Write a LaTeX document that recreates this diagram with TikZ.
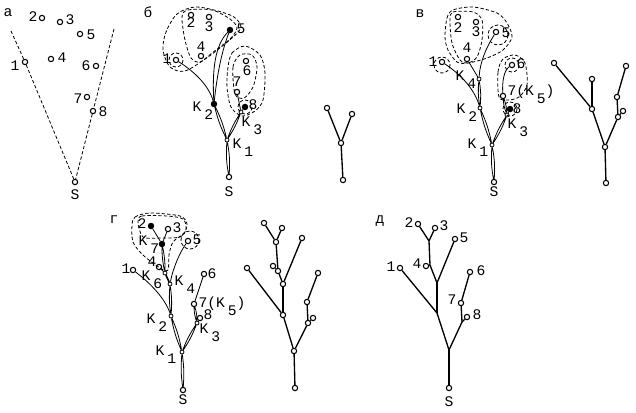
\documentclass[tikz,border=0pt]{standalone}
\usepackage{fontspec}
\newfontfamily\labfont{Liberation Mono}
\usetikzlibrary{calc}
\tikzset{
  pt/.style={circle, draw=black, fill=white, line width=0.8pt, inner sep=0pt, minimum size=4pt},
  ptf/.style={pt, fill=black},
  kpt/.style={pt, minimum size=3pt, line width=0.6pt},
  lab/.style={font=\labfont\fontsize{11}{11}\selectfont, inner sep=0pt},
  edge/.style={line width=0.6pt},
  tree/.style={line width=1pt},
  contour/.style={line width=0.6pt, dash pattern=on 2.5pt off 1.6pt},
}
\newcommand\Klab[1]{K\hspace{0.2em}\raisebox{-0.6em}{#1}}

\begin{document}
\begin{tikzpicture}[x=0.75pt, y=-0.75pt]
  \useasboundingbox (0,0) rectangle (636,412);

  % panel a
  \node[lab] (aT) at (8,13) {а};
  \node[pt] (a1) at (25,62) {};
  \node[pt] (a2) at (42,18) {};
  \node[pt] (a3) at (60,22) {};
  \node[pt] (a4) at (51,59) {};
  \node[pt] (a5) at (80,34) {};
  \node[pt] (a6) at (96,66) {};
  \node[pt] (a7) at (87,97) {};
  \node[pt] (a8) at (93,111) {};
  \node[pt] (aS) at (75,182) {};
  \node[lab] (a1l) at (15,66) {1};
  \node[lab] (a2l) at (33,17) {2};
  \node[lab] (a3l) at (70,20) {3};
  \node[lab] (a4l) at (62,58) {4};
  \node[lab] (a5l) at (91,35) {5};
  \node[lab] (a6l) at (86,66) {6};
  \node[lab] (a7l) at (78,99) {7};
  \node[lab] (a8l) at (103,112) {8};
  \node[lab] (aSl) at (75,195) {S};
  \coordinate (aL) at (11,31);
  \coordinate (aR) at (114,29);
  \draw[contour] (aL) -- (a1) -- (aS);
  \draw[contour] (aR) -- (a8) -- (aS);

  % panel b
  \node[lab] (bT) at (148,12) {б};
  \node[pt] (b1) at (176,60) {};
  \node[pt] (b2) at (191,15) {};
  \node[pt] (b3) at (209,17) {};
  \node[pt] (b4) at (201,56) {};
  \node[ptf] (b5) at (230,30) {};
  \node[pt] (b6) at (246,61) {};
  \node[pt] (b7) at (237,92) {};
  \node[ptf] (b8) at (245,107) {};
  \node[ptf] (bK2) at (214,104) {};
  \node[kpt] (bK3) at (241,112) {};
  \node[kpt] (bK1) at (227,140) {};
  \node[pt] (bS) at (229,177) {};
  \node[lab] (b1l) at (167,59) {1};
  \node[lab] (b2l) at (191,23) {2};
  \node[lab] (b3l) at (209,27) {3};
  \node[lab] (b4l) at (201,47) {4};
  \node[lab] (b5l) at (241,29) {5};
  \node[lab] (b6l) at (247,71) {6};
  \node[lab] (b7l) at (237,82) {7};
  \node[lab] (b8l) at (253,105) {8};
  \node[lab] (bSl) at (229,192) {S};
  \node[lab, anchor=base] (bK2l) at (203,111) {\Klab{2}};
  \node[lab, anchor=base] (bK3l) at (252,126) {\Klab{3}};
  \node[lab, anchor=base] (bK1l) at (243,148) {\Klab{1}};

  \draw[edge] (bS) to[bend left=7] (bK1) (bS) to[bend right=7] (bK1);
  \draw[edge] (bK1) to[bend left=6] (bK2) (bK1) to[bend right=6] (bK2);
  \draw[edge] (bK1) to[bend left=6] (bK3) (bK1) to[bend right=6] (bK3);
  \draw[edge] (bK2) .. controls (212,70) and (215,45) .. (b5);
  \draw[edge] (bK2) .. controls (217,75) and (222,50) .. (b5);
  \draw[edge] (b1) .. controls (195,72) and (209,86) .. (bK2);
  \draw[edge] (b7) -- (bK3);
  \draw[edge] (b8) -- (bK3);

  \draw[contour] plot[smooth cycle] coordinates {(163,50) (170,67) (185,71) (208,57) (232,38) (241,27) (234,17) (218,11) (195,7) (177,14) (166,32)};
  \draw[contour] plot[smooth cycle] coordinates {(182,17) (188,10) (212,10) (230,19) (237,28) (230,39) (212,53) (200,62) (191,58) (185,40)};
  \draw[contour] (b1) circle (7);
  \draw[contour] plot[smooth cycle] coordinates {(228,67) (232,53) (245,46) (260,55) (265,73) (263,100) (255,111) (242,116) (231,107) (227,87)};
  \draw[contour] plot[smooth cycle] coordinates {(235,94) (233,67) (240,55) (252,55) (257,67) (253,87) (244,98)};
  \draw[contour] (b8) circle (7);

  % panel b, tree
  \node[pt] (bT1) at (327,108) {};
  \node[pt] (bT2) at (352,114) {};
  \node[pt] (bTr) at (341,143) {};
  \node[pt] (bTS) at (343,180) {};
  \draw[tree] (bT1) -- (bTr);
  \draw[tree] (bT2) -- (bTr);
  \draw[tree] (bTr) -- (bTS);

  % panel v
  \node[lab] (cT) at (420,14) {в};
  \node[pt] (c1) at (442,62) {};
  \node[pt] (c2) at (458,17) {};
  \node[pt] (c3) at (476,22) {};
  \node[pt] (c4) at (467,59) {};
  \node[pt] (c5) at (496,32) {};
  \node[kpt] (cK4) at (479,79) {};
  \node[pt] (c6) at (512,65) {};
  \node[pt] (c7) at (503,96) {};
  \node[ptf] (c8) at (510,109) {};
  \node[kpt] (cK2) at (480,108) {};
  \node[kpt] (cK3) at (507,115) {};
  \node[kpt] (cK1) at (492,145) {};
  \node[pt] (cS) at (494,182) {};
  \node[lab] (c1l) at (433,62) {1};
  \node[lab] (c2l) at (458,28) {2};
  \node[lab] (c3l) at (476,32) {3};
  \node[lab] (c4l) at (467,48) {4};
  \node[lab] (c5l) at (506,33) {5};
  \node[lab] (c6l) at (521,64) {6};
  \node[lab] (c8l) at (517,109) {8};
  \node[lab] (cSl) at (494,192) {S};
  \node[lab, anchor=base] (c7l) at (531,95) {7(\Klab{5})};
  \node[lab, anchor=base] (cK4l) at (466,80) {\Klab{4}};
  \node[lab, anchor=base] (cK2l) at (467,113) {\Klab{2}};
  \node[lab, anchor=base] (cK3l) at (518,128) {\Klab{3}};
  \node[lab, anchor=base] (cK1l) at (478,148) {\Klab{1}};

  \draw[edge] (cS) to[bend left=7] (cK1) (cS) to[bend right=7] (cK1);
  \draw[edge] (cK1) to[bend left=6] (cK2) (cK1) to[bend right=6] (cK2);
  \draw[edge] (cK1) to[bend left=6] (cK3) (cK1) to[bend right=6] (cK3);
  \draw[edge] (cK2) to[bend left=7] (cK4) (cK2) to[bend right=7] (cK4);
  \draw[edge] (c4) -- (cK4);
  \draw[edge] (c5) .. controls (486,48) and (480,62) .. (cK4);
  \draw[edge] (c1) .. controls (460,74) and (474,88) .. (cK2);
  \draw[edge] (c6) .. controls (504,70) and (502,82) .. (c7);
  \draw[edge] (c7) to[bend left=8] (cK3) (c7) to[bend right=8] (cK3);
  \draw[edge] (c8) -- (cK3);

  \draw[contour] plot[smooth cycle] coordinates {(445,37) (447,18) (453,10) (473,7) (497,13) (507,23) (512,37) (503,50) (487,58) (468,63) (457,62) (448,50)};
  \draw[contour] plot[smooth cycle] coordinates {(450,20) (453,12) (473,12) (482,20) (482,40) (477,57) (468,63) (460,60) (452,43)};
  \draw[contour] (c5) ++(2,3) circle (10);
  \draw[contour] (c1) ++(0,3) circle (8);
  \draw[contour] plot[smooth cycle] coordinates {(499,97) (498,72) (503,59) (515,55) (525,63) (527,85) (519,97) (508,100)};
  \draw[contour] (c6) circle (7);
  \draw[contour] (c8) circle (7);

  % panel v, tree
  \node[pt] (cT1) at (554,63) {};
  \node[pt] (cT2) at (592,79) {};
  \node[pt] (cTa) at (592,109) {};
  \node[pt] (cT6) at (626,66) {};
  \node[pt] (cT7) at (617,97) {};
  \node[pt] (cT8) at (623,111) {};
  \node[pt] (cTb) at (618,117) {};
  \node[pt] (cTr) at (605,147) {};
  \node[pt] (cTS) at (606,183) {};
  \draw[tree] (cT1) -- (cTa);
  \draw[tree] (cT2) -- (cTa);
  \draw[tree] (cTa) -- (cTr);
  \draw[tree] (cT6) -- (cT7);
  \draw[tree] (cT7) -- (cTb);
  \draw[tree] (cT8) -- (cTb);
  \draw[tree] (cTb) -- (cTr);
  \draw[tree] (cTr) -- (cTS);

  % panel g
  \node[lab] (dT) at (114,220) {г};
  \node[ptf] (d2) at (151,226) {};
  \node[pt] (d3) at (168,229) {};
  \node[ptf] (dK7) at (162,244) {};
  \node[pt] (d5) at (188,241) {};
  \node[pt] (d4) at (159,267) {};
  \node[kpt] (dK6) at (165,273) {};
  \node[pt] (d1) at (133,270) {};
  \node[kpt] (dK4) at (170,284) {};
  \node[pt] (d6) at (204,274) {};
  \node[pt] (d7) at (194,304) {};
  \node[pt] (d8) at (200,318) {};
  \node[kpt] (dK2) at (171,316) {};
  \node[kpt] (dK3) at (197,323) {};
  \node[kpt] (dK1) at (182,352) {};
  \node[pt] (dS) at (183,390) {};
  \node[lab] (d2l) at (142,224) {2};
  \node[lab] (d3l) at (177,228) {3};
  \node[lab] (d5l) at (197,240) {5};
  \node[lab] (d4l) at (152,262) {4};
  \node[lab] (d1l) at (126,269) {1};
  \node[lab] (d6l) at (212,274) {6};
  \node[lab] (d8l) at (208,315) {8};
  \node[lab] (dSl) at (183,400) {S};
  \node[lab, anchor=base] (d7l) at (222,307) {7(\Klab{5})};
  \node[lab, anchor=base] (dK7l) at (149,245) {\Klab{7}};
  \node[lab, anchor=base] (dK6l) at (152,280) {\Klab{6}};
  \node[lab, anchor=base] (dK4l) at (185,285) {\Klab{4}};
  \node[lab, anchor=base] (dK2l) at (157,323) {\Klab{2}};
  \node[lab, anchor=base] (dK3l) at (210,333) {\Klab{3}};
  \node[lab, anchor=base] (dK1l) at (166,355) {\Klab{1}};

  \draw[edge] (d2) -- (dK7);
  \draw[edge] (d3) -- (dK7);
  \draw[edge] (dK7) to[bend left=6] (dK6) (dK7) to[bend right=6] (dK6);
  \draw[edge] (d4) -- (dK6);
  \draw[edge] (dK6) to[bend left=10] (dK4) (dK6) to[bend right=10] (dK4);
  \draw[edge] (d5) .. controls (180,252) and (173,268) .. (dK4);
  \draw[edge] (dK4) to[bend left=6] (dK2) (dK4) to[bend right=6] (dK2);
  \draw[edge] (d1) .. controls (150,283) and (165,298) .. (dK2);
  \draw[edge] (dK2) to[bend left=6] (dK1) (dK2) to[bend right=6] (dK1);
  \draw[edge] (d6) -- (d7);
  \draw[edge] (d7) to[bend left=8] (dK3) (d7) to[bend right=8] (dK3);
  \draw[edge] (d8) -- (dK3);
  \draw[edge] (dK3) to[bend left=6] (dK1) (dK3) to[bend right=6] (dK1);
  \draw[edge] (dK1) to[bend left=6] (dS) (dK1) to[bend right=6] (dS);

  \draw[contour] plot[smooth cycle] coordinates {(132,225) (135,217) (150,213) (180,216) (187,224) (184,233) (173,242) (169,255) (168,270) (160,268) (143,255) (133,242)};
  \draw[contour] plot[smooth cycle] coordinates {(138,222) (142,216) (167,216) (183,219) (186,229) (180,237) (160,238) (143,237)};
  \draw[contour] (d5) ++(2,-1) circle (9);

  % panel g, tree
  \node[pt] (eA) at (264,223) {};
  \node[pt] (eB) at (282,228) {};
  \node[pt] (eC) at (276,242) {};
  \node[pt] (eD) at (302,238) {};
  \node[pt] (eE) at (273,266) {};
  \node[pt] (eF) at (278,271) {};
  \node[pt] (eG) at (283,284) {};
  \node[pt] (eH) at (247,268) {};
  \node[pt] (eI) at (283,315) {};
  \node[pt] (eJ) at (318,273) {};
  \node[pt] (eK) at (307,302) {};
  \node[pt] (eL) at (313,318) {};
  \node[pt] (eM) at (308,323) {};
  \node[pt] (eN) at (294,351) {};
  \node[pt] (eO) at (295,388) {};
  \draw[tree] (eA) -- (eC);
  \draw[tree] (eB) -- (eC);
  \draw[tree] (eC) -- (eF);
  \draw[tree] (eE) -- (eF);
  \draw[tree] (eF) -- (eG);
  \draw[tree] (eD) -- (eG);
  \draw[tree] (eG) -- (eI);
  \draw[tree] (eH) -- (eI);
  \draw[tree] (eI) -- (eN);
  \draw[tree] (eJ) -- (eK);
  \draw[tree] (eK) -- (eM);
  \draw[tree] (eL) -- (eM);
  \draw[tree] (eM) -- (eN);
  \draw[tree] (eN) -- (eO);

  % panel d
  \node[lab] (fT) at (380,221) {д};
  \node[pt] (f2) at (418,224) {};
  \node[pt] (f3) at (435,228) {};
  \node[pt] (f5) at (455,239) {};
  \node[pt] (f4) at (426,266) {};
  \node[pt] (f1) at (400,268) {};
  \node[pt] (f6) at (470,272) {};
  \node[pt] (f7) at (461,303) {};
  \node[pt] (f8) at (467,317) {};
  \node[pt] (fS) at (449,388) {};
  \coordinate (fA) at (429,241);
  \coordinate (fF) at (430,265);
  \coordinate (fB) at (437,283);
  \coordinate (fC) at (437,313);
  \coordinate (fD) at (462,322);
  \coordinate (fE) at (449,350);
  \node[lab] (f2l) at (409,223) {2};
  \node[lab] (f3l) at (444,226) {3};
  \node[lab] (f5l) at (464,238) {5};
  \node[lab] (f4l) at (417,264) {4};
  \node[lab] (f1l) at (391,267) {1};
  \node[lab] (f6l) at (481,271) {6};
  \node[lab] (f7l) at (452,300) {7};
  \node[lab] (f8l) at (477,315) {8};
  \node[lab] (fSl) at (449,402) {S};
  \draw[tree] (f2) -- (fA);
  \draw[tree] (f3) -- (fA);
  \draw[tree] (fA) -- (fF) -- (fB);
  \draw[tree] (f4) -- (fF);
  \draw[tree] (f5) -- (fB);
  \draw[tree] (fB) -- (fC);
  \draw[tree] (f1) -- (fC);
  \draw[tree] (fC) -- (fE);
  \draw[tree] (f6) -- (f7);
  \draw[tree] (f7) -- (fD);
  \draw[tree] (f8) -- (fD);
  \draw[tree] (fD) -- (fE);
  \draw[tree] (fE) -- (fS);
\end{tikzpicture}
\end{document}
